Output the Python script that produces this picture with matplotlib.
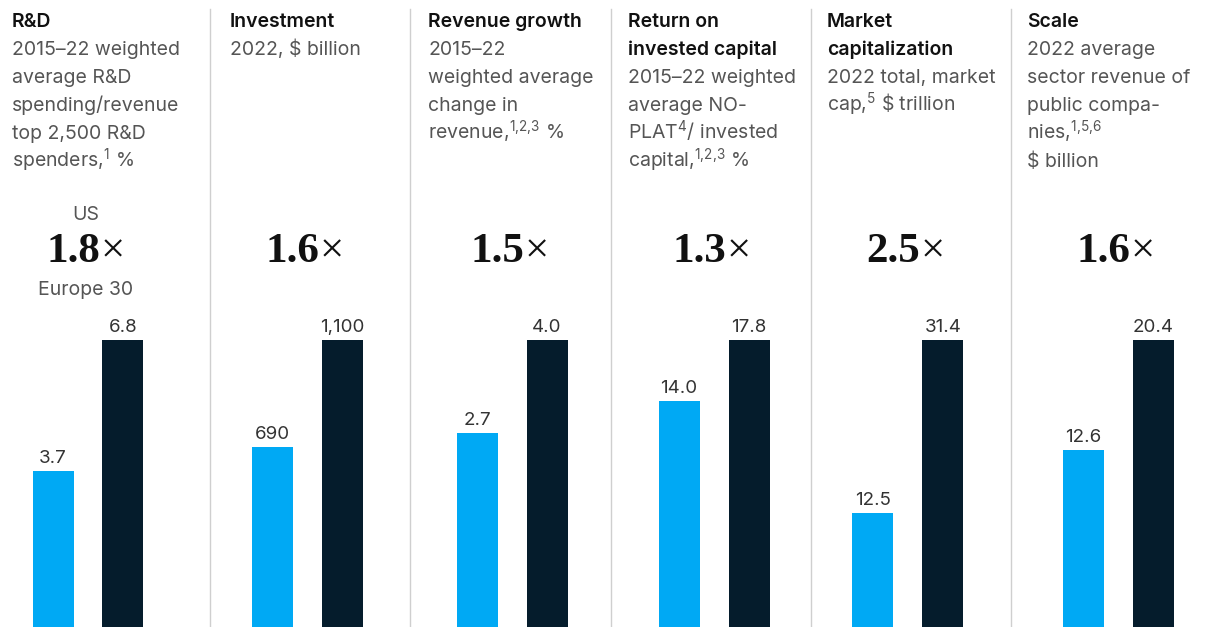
import matplotlib
matplotlib.use("Agg")
import matplotlib.pyplot as plt

W, H = 1206, 627
DPI = 100

# ---- data ----
panels = ["R&D", "Investment", "Revenue growth", "Return on invested capital",
          "Market capitalization", "Scale"]
europe_values = [3.7, 690, 2.7, 14.0, 12.5, 12.6]
us_values = [6.8, 1100, 4.0, 17.8, 31.4, 20.4]
europe_labels = ["3.7", "690", "2.7", "14.0", "12.5", "12.6"]
us_labels = ["6.8", "1,100", "4.0", "17.8", "31.4", "20.4"]
multipliers = ["1.8", "1.6", "1.5", "1.3", "2.5", "1.6"]
title_lines = [
    ["R&D"],
    ["Investment"],
    ["Revenue growth"],
    ["Return on", "invested capital"],
    ["Market", "capitalization"],
    ["Scale"],
]
sub_lines = [
    ["2015–22 weighted", "average R&D", "spending/revenue", "top 2,500 R&D",
     r"spenders,$^{\mathregular{1}}$ %"],
    ["2022, $ billion"],
    ["2015–22", "weighted average", "change in", r"revenue,$^{\mathregular{1{,}2{,}3}}$ %"],
    ["2015–22 weighted", "average NO-", r"PLAT$^{\mathregular{4}}$/ invested",
     r"capital,$^{\mathregular{1{,}2{,}3}}$ %"],
    ["2022 total, market", r"cap,$^{\mathregular{5}}$ \$ trillion"],
    ["2022 average", "sector revenue of", "public compa-",
     r"nies,$^{\mathregular{1{,}5{,}6}}$", "$ billion"],
]

# ---- style ----
LIGHT = "#00A9F4"
DARK = "#051C2C"
SANS = "Inter"
SERIF = "Liberation Serif"
plt.rcParams["font.family"] = [SANS, "DejaVu Sans"]
plt.rcParams["mathtext.fontset"] = "custom"
plt.rcParams["mathtext.rm"] = SANS
plt.rcParams["mathtext.it"] = SANS
plt.rcParams["mathtext.bf"] = SANS + ":bold"

fig = plt.figure(figsize=(W / DPI, H / DPI), dpi=DPI)
fig.patch.set_facecolor("white")

def fx(px):
    return px / W

def fy(py):
    return 1 - py / H

text_left = [12, 230, 428, 628, 827, 1027]
bar_mid = [88, 307, 512, 714, 908, 1118]
dividers = [210, 410, 611, 811, 1011]
bar_top_px = 340
bar_gap_px = 70
bar_w_px = 41
panel_w_px = 200
FS = 14

for d in dividers:
    fig.add_artist(plt.Line2D([fx(d), fx(d)], [fy(9), fy(H)], transform=fig.transFigure,
                              color="#cfcfcf", lw=1.0))

line_h = 28
base0 = 27
for i in range(len(panels)):
    k = 0
    for t in title_lines[i]:
        fig.text(fx(text_left[i]), fy(base0 + line_h * k), t, fontsize=FS,
                 fontweight="semibold", color="#111111", va="baseline", ha="left")
        k += 1
    for t in sub_lines[i]:
        fig.text(fx(text_left[i]), fy(base0 + line_h * k), t, fontsize=FS,
                 color="#555555", va="baseline", ha="left")
        k += 1

    # bars axis
    ax = fig.add_axes([fx(bar_mid[i] - panel_w_px / 2), 0,
                       panel_w_px / W, (H - bar_top_px) / H])
    half = panel_w_px / bar_gap_px / 2
    ax.set_xlim(0.5 - half, 0.5 + half)
    ax.set_ylim(0, us_values[i])
    ax.bar([0, 1], [europe_values[i], us_values[i]], width=bar_w_px / bar_gap_px,
           color=[LIGHT, DARK])
    for x, v, lab in zip([0, 1], [europe_values[i], us_values[i]],
                         [europe_labels[i], us_labels[i]]):
        ax.annotate(lab, (x, v), xytext=(0, 8), textcoords="offset pixels",
                    ha="center", va="baseline", fontsize=13.5, color="#333333",
                    annotation_clip=False)
    ax.axis("off")

    # multiplier: bold number + lighter "×"
    fig.text(fx(bar_mid[i] + 12), fy(262), multipliers[i], fontsize=31,
             family=[SERIF, "DejaVu Serif"], fontweight="bold", color="#111111",
             ha="right", va="baseline")
    fig.text(fx(bar_mid[i] + 13), fy(262), "×", fontsize=31,
             family=[SERIF, "DejaVu Serif"], color="#111111",
             ha="left", va="baseline")

fig.text(fx(86), fy(215), "US", fontsize=FS, color="#555555", ha="center", va="center")
fig.text(fx(86), fy(290), "Europe 30", fontsize=FS, color="#555555", ha="center", va="center")

fig.savefig("out.png", dpi=DPI, facecolor="white")
